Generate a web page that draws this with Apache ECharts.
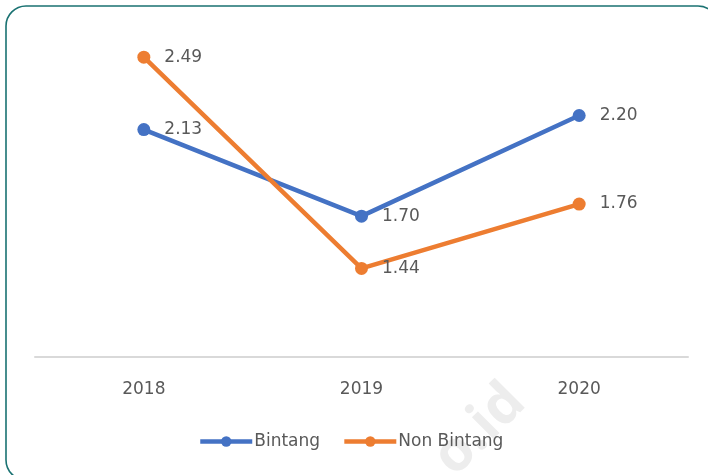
<!DOCTYPE html>
<html>
<head>
<meta charset="utf-8">
<script src="https://cdn.jsdelivr.net/npm/echarts@6/dist/echarts.min.js"></script>
<style>
html, body { margin: 0; padding: 0; background: #fff; }
#chart { width: 708px; height: 475px; }
</style>
</head>
<body>
<div id="chart"></div>
<script>
var years = ['2018', '2019', '2020'];
var bintang = [2.13, 1.70, 2.20];
var nonBintang = [2.49, 1.44, 1.76];

var myChart = echarts.init(document.getElementById('chart'));
var font = '"DejaVu Sans", "Open Sans", sans-serif';

function lineSeries(name, data, color) {
    return {
        name: name,
        type: 'line',
        data: data,
        symbol: 'circle',
        symbolSize: 13,
        lineStyle: { width: 4.5, color: color },
        itemStyle: { color: color },
        label: {
            show: true,
            position: 'right',
            distance: 14,
            color: '#595959',
            fontSize: 17,
            fontFamily: font,
            formatter: function (p) { return p.value.toFixed(2); }
        },
        z: 3
    };
}

var option = {
    backgroundColor: '#ffffff',
    animation: false,
    textStyle: { fontFamily: font },
    grid: { left: 35, right: 20, top: 35, bottom: 118 },
    xAxis: {
        type: 'category',
        data: years,
        boundaryGap: true,
        axisLine: { lineStyle: { color: '#d9d9d9', width: 2 } },
        axisTick: { show: false },
        axisLabel: { color: '#595959', fontSize: 17, margin: 24, fontFamily: font }
    },
    yAxis: {
        type: 'value',
        min: 1,
        max: 2.6,
        show: false,
        splitLine: { show: false }
    },
    legend: {
        top: 428,
        left: 193,
        itemWidth: 52,
        itemHeight: 13,
        itemGap: 22,
        lineStyle: { width: 4.5 },
        textStyle: { color: '#595959', fontSize: 17, fontFamily: font, padding: [0, 0, 0, -3] },
        data: ['Bintang', 'Non Bintang']
    },
    graphic: [
        {
            type: 'rect',
            shape: { x: 6, y: 6, width: 712, height: 474, r: 20 },
            style: { fill: 'none', stroke: '#1a7272', lineWidth: 1.6 },
            z: 0
        },
        {
            type: 'text',
            x: 480,
            y: 430,
            rotation: Math.PI * 45 / 180,
            style: {
                text: 'o.id',
                fill: '#ededed',
                align: 'center',
                verticalAlign: 'middle',
                font: 'bold 56px "Open Sans", sans-serif'
            },
            z: 0
        }
    ],
    series: [
        lineSeries('Bintang', bintang, '#4472C4'),
        lineSeries('Non Bintang', nonBintang, '#ED7D31')
    ]
};

myChart.setOption(option);
</script>
</body>
</html>
